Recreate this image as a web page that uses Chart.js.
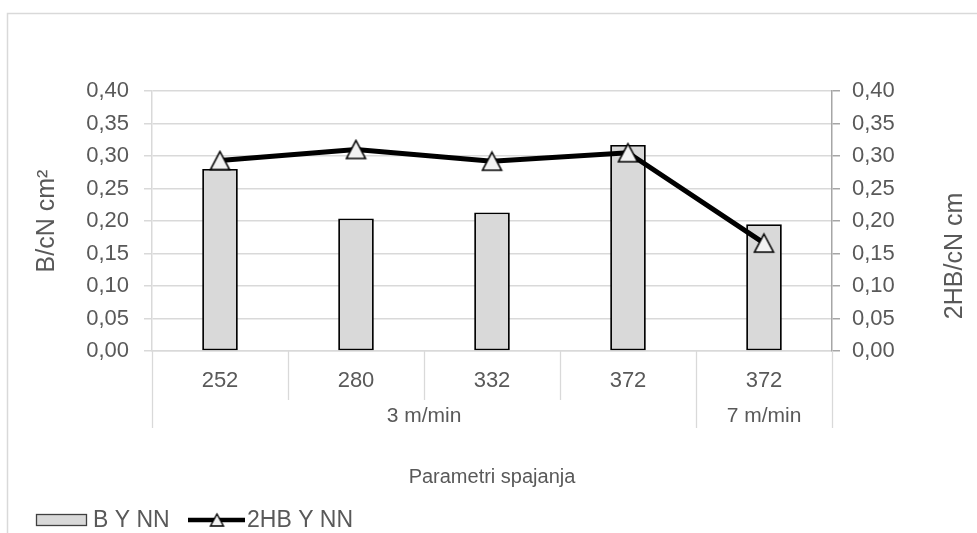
<!DOCTYPE html>
<html>
<head>
<meta charset="utf-8">
<script src="https://cdn.jsdelivr.net/npm/chart.js@4.4.1/dist/chart.umd.min.js"></script>
<style>
  html, body { margin: 0; padding: 0; background: #ffffff; }
  #wrap { width: 977px; height: 533px; position: relative; }
</style>
</head>
<body>
<div id="wrap"><canvas id="c" width="977" height="533"></canvas></div>
<script>
// ---- data ----
const categories = ['252', '280', '332', '372', '372'];
const groupLabels = ['3 m/min', '7 m/min'];
const groupSpans = [4, 1];
const seriesNames = ['B Y NN', '2HB Y NN'];
const bValues = [0.280, 0.204, 0.213, 0.317, 0.195];
const hbValues = [0.293, 0.310, 0.292, 0.305, 0.166];
const yMin = 0, yMax = 0.40, yStep = 0.05;
const leftTitle = 'B/cN cm\u00B2';
const rightTitle = '2HB/cN cm';
const xTitle = 'Parametri spajanja';

const FONT = '"Liberation Sans", Arial, sans-serif';
const TXT = '#595959';
const GRID = '#d9d9d9';

function makeTriangle(w, h, lw) {
  const c = document.createElement('canvas');
  c.width = w + 4; c.height = h + 4;
  const g = c.getContext('2d');
  g.beginPath();
  g.moveTo(c.width / 2, 2);
  g.lineTo(c.width - 2, c.height - 2);
  g.lineTo(2, c.height - 2);
  g.closePath();
  g.fillStyle = '#f2f2f2';
  g.fill();
  g.lineWidth = lw;
  g.strokeStyle = '#000';
  g.stroke();
  return c;
}
const tri = makeTriangle(19, 18, 1.6);
const triSmall = makeTriangle(13, 12, 1.4);

const fmt = v => v.toFixed(2).replace('.', ',');

const extras = {
  id: 'extras',
  beforeDraw(chart) {
    const ctx = chart.ctx;
    ctx.save();
    ctx.fillStyle = '#fff';
    ctx.fillRect(0, 0, chart.width, chart.height);
    ctx.strokeStyle = GRID;
    ctx.lineWidth = 1.5;
    ctx.strokeRect(7.5, 13.5, 2000, 2000);
    ctx.restore();
  },
  afterDraw(chart) {
    const ctx = chart.ctx;
    const x = chart.scales.x;
    const area = chart.chartArea;
    const half = (x.getPixelForValue(1) - x.getPixelForValue(0)) / 2;
    ctx.save();
    // category separators
    ctx.strokeStyle = GRID;
    ctx.lineWidth = 1.3;
    let idx = 0;
    const bounds = [0];
    groupSpans.forEach(s => { idx += s; bounds.push(idx); });
    for (let i = 0; i <= categories.length; i++) {
      const px = Math.round(x.getPixelForValue(i) - half) + 0.5;
      const long = bounds.includes(i);
      ctx.beginPath();
      ctx.moveTo(px, area.bottom);
      ctx.lineTo(px, area.bottom + (long ? 77 : 49));
      ctx.stroke();
    }
    // group labels
    ctx.fillStyle = TXT;
    ctx.font = '21px ' + FONT;
    ctx.textAlign = 'center';
    ctx.textBaseline = 'middle';
    for (let g = 0; g < groupLabels.length; g++) {
      const a = x.getPixelForValue(bounds[g]) - half;
      const b = x.getPixelForValue(bounds[g + 1]) - half;
      ctx.fillText(groupLabels[g], (a + b) / 2, area.bottom + 65);
    }
    // x title
    ctx.font = '20px ' + FONT;
    ctx.fillText(xTitle, (area.left + area.right) / 2, 477);
    // y titles
    ctx.font = '25px ' + FONT;
    ctx.save();
    ctx.translate(47, (area.top + area.bottom) / 2);
    ctx.rotate(-Math.PI / 2);
    ctx.fillText(leftTitle, 0, 0);
    ctx.restore();
    ctx.save();
    ctx.translate(955, 256);
    ctx.rotate(-Math.PI / 2);
    ctx.fillText(rightTitle, 0, 0);
    ctx.restore();
    // legend
    const ly = 520;
    ctx.fillStyle = GRID;
    ctx.fillRect(36, 514, 51, 12);
    ctx.strokeStyle = '#404040';
    ctx.lineWidth = 1.3;
    ctx.strokeRect(36.5, 514.5, 50, 11);
    ctx.fillStyle = TXT;
    ctx.textAlign = 'left';
    ctx.font = '23px ' + FONT;
    ctx.fillText(seriesNames[0], 93, ly + 1);
    ctx.strokeStyle = '#000';
    ctx.lineWidth = 4.5;
    ctx.beginPath();
    ctx.moveTo(188, ly);
    ctx.lineTo(245, ly);
    ctx.stroke();
    ctx.drawImage(triSmall, 217 - triSmall.width / 2, ly - triSmall.height / 2);
    ctx.fillText(seriesNames[1], 247, ly + 1);
    ctx.restore();
  }
};

new Chart(document.getElementById('c'), {
  data: {
    labels: categories,
    datasets: [
      {
        type: 'line',
        label: seriesNames[1],
        data: hbValues,
        yAxisID: 'y1',
        borderColor: '#000',
        borderWidth: 5,
        pointStyle: tri,
        pointRadius: 10,
        tension: 0,
        order: 0
      },
      {
        type: 'bar',
        label: seriesNames[0],
        data: bValues,
        yAxisID: 'y',
        backgroundColor: GRID,
        borderColor: '#000',
        borderWidth: 1.8,
        borderSkipped: false,
        categoryPercentage: 1,
        barPercentage: 0.262,
        order: 1
      }
    ]
  },
  options: {
    responsive: false,
    animation: false,
    layout: { padding: { top: 91, left: 0, right: 0, bottom: 0 } },
    plugins: { legend: { display: false }, tooltip: { enabled: false } },
    scales: {
      x: {
        type: 'category',
        offset: true,
        grid: { display: false },
        border: { display: true, color: GRID, width: 1.5 },
        ticks: { color: TXT, font: { family: FONT, size: 22 }, padding: 9, maxRotation: 0 },
        afterFit(s) { s.height = 182; }
      },
      y: {
        position: 'left',
        min: yMin, max: yMax,
        ticks: { stepSize: yStep, color: TXT, font: { family: FONT, size: 22 }, padding: 15, callback: v => fmt(v) },
        grid: { color: GRID, lineWidth: 1.5, tickLength: 8 },
        border: { display: true, color: GRID, width: 1.5 },
        afterFit(s) { s.width = 152; }
      },
      y1: {
        position: 'right',
        min: yMin, max: yMax,
        ticks: { stepSize: yStep, color: TXT, font: { family: FONT, size: 22 }, padding: 12, callback: v => fmt(v) },
        grid: { drawOnChartArea: false, color: '#a6a6a6', lineWidth: 1.5, tickLength: 8 },
        border: { display: true, color: '#a6a6a6', width: 1.5 },
        afterFit(s) { s.width = 145; }
      }
    }
  },
  plugins: [extras]
});
</script>
</body>
</html>
